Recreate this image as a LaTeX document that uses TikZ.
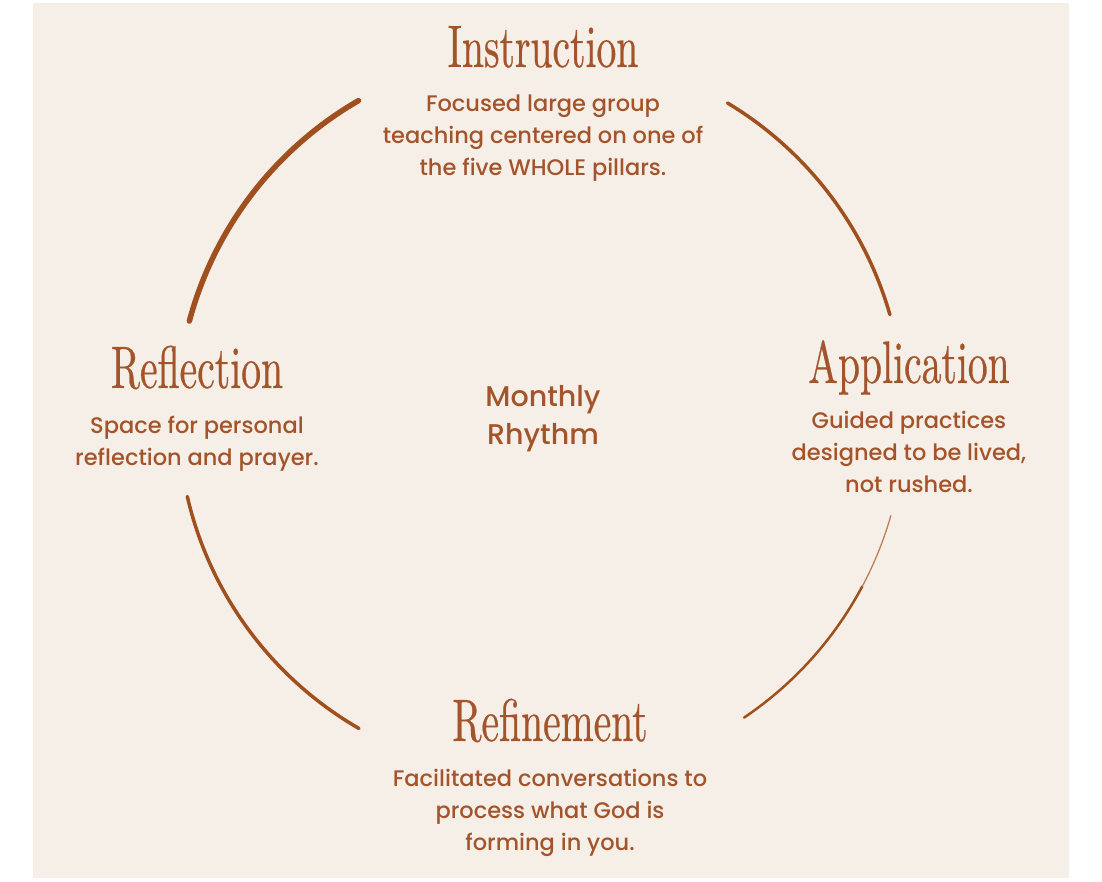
\documentclass[tikz,border=0pt]{standalone}
\usepackage{fontspec}
\usepackage{tikz}
\usetikzlibrary{positioning}
\IfFontExistsTF{Poppins Medium}{\setmainfont{Poppins Medium}}{\setmainfont[FakeBold=0.6]{Poppins}}
\newfontfamily\titlefont[FakeStretch=0.66, FakeBold=0.4]{lmroman10-regular.otf}
\definecolor{rust}{HTML}{A3542A}
\definecolor{brush}{HTML}{A0501F}
\definecolor{paper}{HTML}{F6EFE7}
\tikzstyle{title} = [inner sep=0pt, text=rust, font=\titlefont\fontsize{60}{60}\selectfont]
\tikzstyle{blurb} = [inner sep=0pt, text=rust, align=center, font=\fontsize{22.5}{32}\selectfont]
\tikzstyle{ring} = [draw=brush, line cap=round]

\begin{document}
\begin{tikzpicture}[x=1pt, y=1pt, node distance=28pt]
	\useasboundingbox (0,0) rectangle (1102,882);
	\fill[paper] (33,4) rectangle (1069,879);
	\coordinate (hub) at (540,467);
	% ring
	\draw[ring, line width=5.5pt] (hub) ++(120:363) arc[start angle=120, end angle=165, radius=363];
	\draw[ring, line width=3.5pt] (hub) ++(59:364) arc[start angle=59, end angle=16, radius=364];
	\draw[ring, line width=2.5pt] (hub) ++(-56:365) arc[start angle=-56, end angle=-28, radius=365];
	\draw[ring, line width=1.3pt, draw=brush!70!paper] (hub) ++(-28:365) arc[start angle=-28, end angle=-16, radius=365];
	\draw[ring, line width=3.5pt] (hub) ++(-120:362) arc[start angle=-120, end angle=-167, radius=362];
	% stages
	\node (instruction) [title, anchor=base] at (543,815) {Instruction};
	\node (instructiontext) [blurb, below=of instruction.base] {Focused large group\\teaching centered on one of\\the five WHOLE pillars.};
	\node (application) [title, anchor=base] at (909,499) {Application};
	\node (applicationtext) [blurb, below=of application.base] {Guided practices\\designed to be lived,\\not rushed.};
	\node (refinement) [title, anchor=base] at (550,141) {Refinement};
	\node (refinementtext) [blurb, below=of refinement.base] {Facilitated conversations to\\process what God is\\forming in you.};
	\node (reflection) [title, anchor=base] at (197,494) {Reflection};
	\node (reflectiontext) [blurb, below=of reflection.base] {Space for personal\\reflection and prayer.};
	% centre
	\node (rhythm) [blurb, font=\fontsize{28.5}{38}\selectfont] at (543,463) {Monthly\\Rhythm};
\end{tikzpicture}
\end{document}
